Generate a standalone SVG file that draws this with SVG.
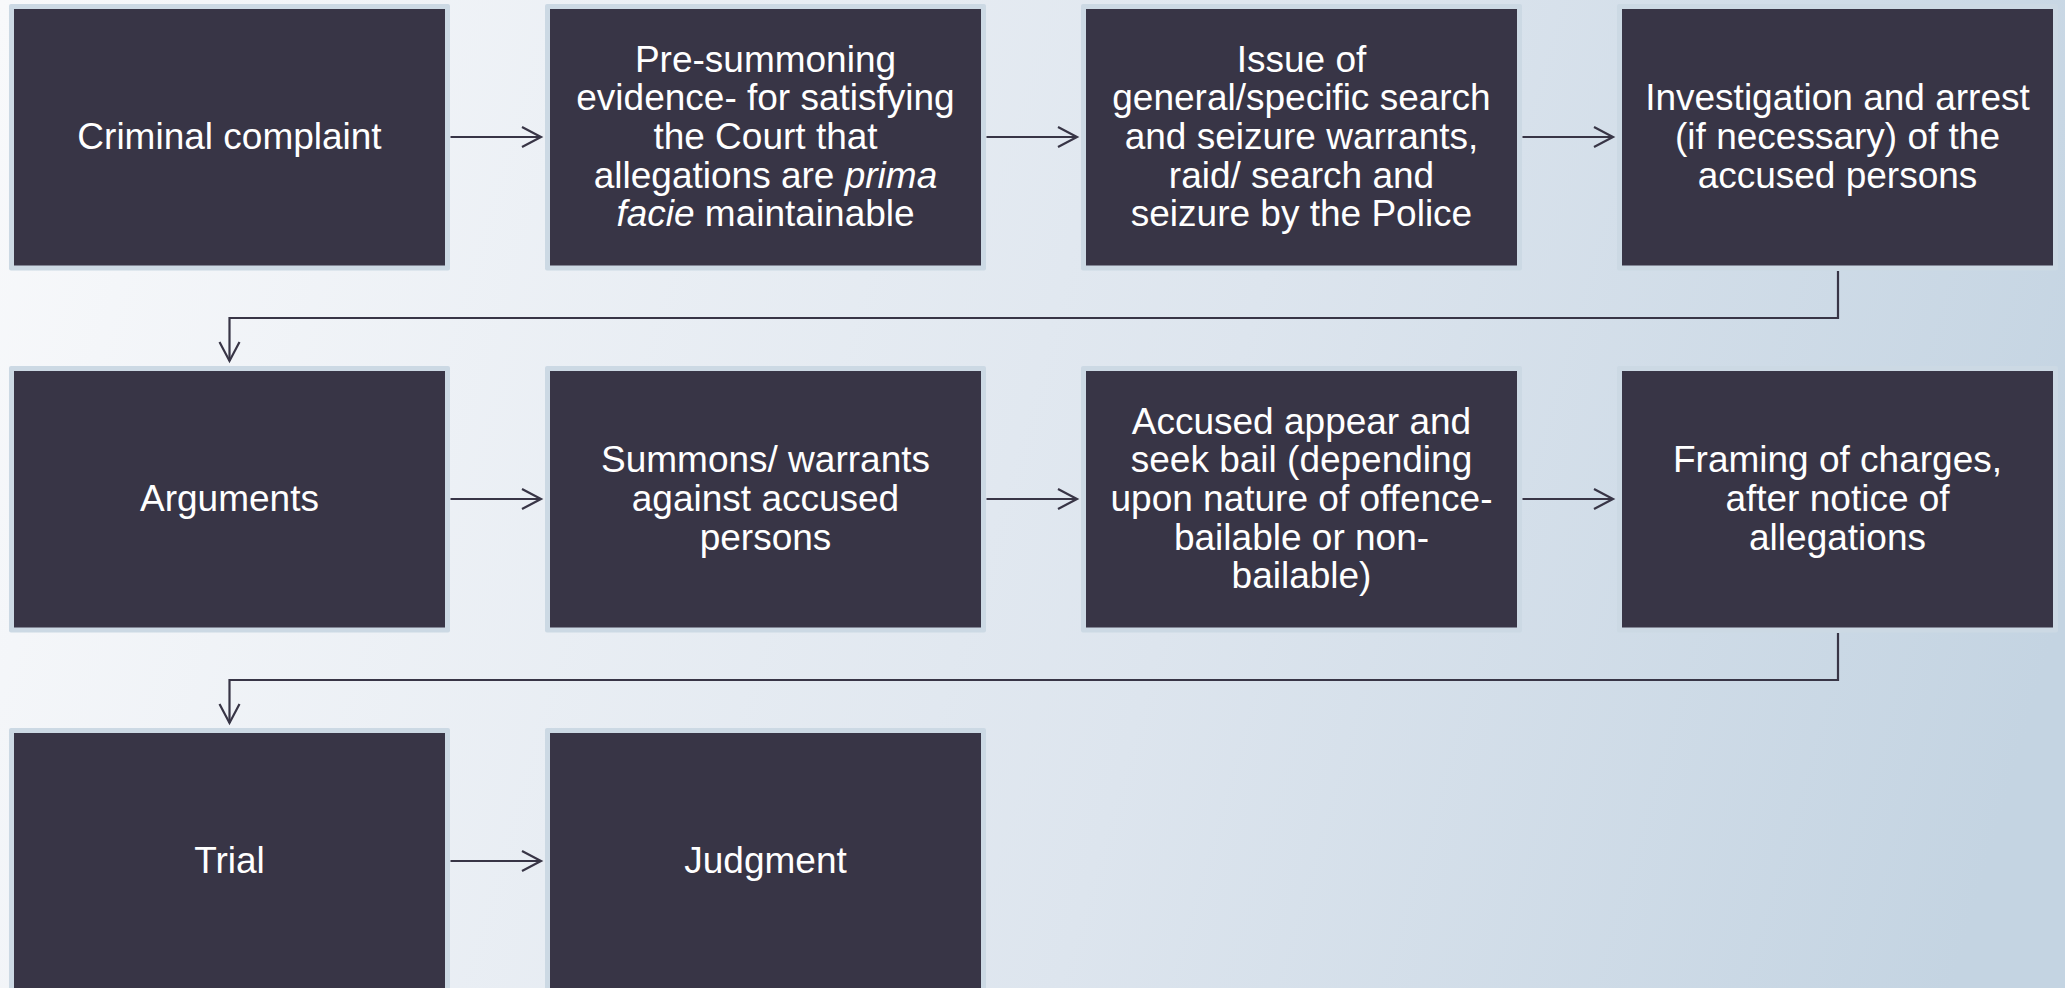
<svg xmlns="http://www.w3.org/2000/svg" width="2065" height="988" viewBox="0 0 2065 988">
<defs>
<linearGradient id="bg" gradientUnits="userSpaceOnUse" x1="0" y1="0" x2="2065" y2="600">
<stop offset="0" stop-color="#f8f9fb"/>
<stop offset="0.6" stop-color="#dde5ee"/>
<stop offset="1" stop-color="#c4d4e2"/>
</linearGradient>
<marker id="arr" markerUnits="userSpaceOnUse" markerWidth="24" markerHeight="26" viewBox="0 0 24 26" refX="21" refY="13" orient="auto">
<path d="M2,3 L21,13 L2,23" fill="none" stroke="#383546" stroke-width="2.2"/>
</marker>
<style>
.o{fill:#ccd9e4}
.b{fill:#383546}
.t{font-family:"Liberation Sans",Arial,sans-serif;font-size:37px;fill:#ffffff;text-anchor:middle}
.i{font-style:italic}
.c{fill:none;stroke:#383546;stroke-width:2.2}
</style>
</defs>
<rect width="2065" height="988" fill="url(#bg)"/>

<g id="connectors">
<line class="c" x1="450.5" y1="137" x2="541" y2="137" marker-end="url(#arr)"/>
<line class="c" x1="986.5" y1="137" x2="1077" y2="137" marker-end="url(#arr)"/>
<line class="c" x1="1522.5" y1="137" x2="1613" y2="137" marker-end="url(#arr)"/>
<path class="c" d="M1838,271 V318 H229.5 V361" marker-end="url(#arr)"/>
<line class="c" x1="450.5" y1="499" x2="541" y2="499" marker-end="url(#arr)"/>
<line class="c" x1="986.5" y1="499" x2="1077" y2="499" marker-end="url(#arr)"/>
<line class="c" x1="1522.5" y1="499" x2="1613" y2="499" marker-end="url(#arr)"/>
<path class="c" d="M1838,633 V680 H229.5 V723" marker-end="url(#arr)"/>
<line class="c" x1="450.5" y1="861" x2="541" y2="861" marker-end="url(#arr)"/>
</g>

<g id="n1">
<rect class="o" x="9" y="4" width="441" height="266.5" rx="2"/>
<rect class="b" x="14" y="9" width="431" height="256.5"/>
<text class="t" x="229.5" y="149">Criminal complaint</text>
</g>
<g id="n2">
<rect class="o" x="545" y="4" width="441" height="266.5" rx="2"/>
<rect class="b" x="550" y="9" width="431" height="256.5"/>
<text class="t" x="765.5" y="71.8">Pre-summoning</text>
<text class="t" x="765.5" y="110.4">evidence- for satisfying</text>
<text class="t" x="765.5" y="149">the Court that</text>
<text class="t" x="765.5" y="187.6">allegations are <tspan class="i">prima</tspan></text>
<text class="t" x="765.5" y="226.2"><tspan class="i">facie</tspan> maintainable</text>
</g>
<g id="n3">
<rect class="o" x="1081" y="4" width="441" height="266.5" rx="2"/>
<rect class="b" x="1086" y="9" width="431" height="256.5"/>
<text class="t" x="1301.5" y="71.8">Issue of</text>
<text class="t" x="1301.5" y="110.4">general/specific search</text>
<text class="t" x="1301.5" y="149">and seizure warrants,</text>
<text class="t" x="1301.5" y="187.6">raid/ search and</text>
<text class="t" x="1301.5" y="226.2">seizure by the Police</text>
</g>
<g id="n4">
<rect class="o" x="1617" y="4" width="441" height="266.5" rx="2"/>
<rect class="b" x="1622" y="9" width="431" height="256.5"/>
<text class="t" x="1837.5" y="110.4">Investigation and arrest</text>
<text class="t" x="1837.5" y="149">(if necessary) of the</text>
<text class="t" x="1837.5" y="187.6">accused persons</text>
</g>

<g id="n5">
<rect class="o" x="9" y="366" width="441" height="266.5" rx="2"/>
<rect class="b" x="14" y="371" width="431" height="256.5"/>
<text class="t" x="229.5" y="511">Arguments</text>
</g>
<g id="n6">
<rect class="o" x="545" y="366" width="441" height="266.5" rx="2"/>
<rect class="b" x="550" y="371" width="431" height="256.5"/>
<text class="t" x="765.5" y="472.4">Summons/ warrants</text>
<text class="t" x="765.5" y="511">against accused</text>
<text class="t" x="765.5" y="549.6">persons</text>
</g>
<g id="n7">
<rect class="o" x="1081" y="366" width="441" height="266.5" rx="2"/>
<rect class="b" x="1086" y="371" width="431" height="256.5"/>
<text class="t" x="1301.5" y="433.8">Accused appear and</text>
<text class="t" x="1301.5" y="472.4">seek bail (depending</text>
<text class="t" x="1301.5" y="511">upon nature of offence-</text>
<text class="t" x="1301.5" y="549.6">bailable or non-</text>
<text class="t" x="1301.5" y="588.2">bailable)</text>
</g>
<g id="n8">
<rect class="o" x="1617" y="366" width="441" height="266.5" rx="2"/>
<rect class="b" x="1622" y="371" width="431" height="256.5"/>
<text class="t" x="1837.5" y="472.4">Framing of charges,</text>
<text class="t" x="1837.5" y="511">after notice of</text>
<text class="t" x="1837.5" y="549.6">allegations</text>
</g>

<g id="n9">
<rect class="o" x="9" y="728" width="441" height="266.5" rx="2"/>
<rect class="b" x="14" y="733" width="431" height="256.5"/>
<text class="t" x="229.5" y="873">Trial</text>
</g>
<g id="n10">
<rect class="o" x="545" y="728" width="441" height="266.5" rx="2"/>
<rect class="b" x="550" y="733" width="431" height="256.5"/>
<text class="t" x="765.5" y="873">Judgment</text>
</g>
</svg>
